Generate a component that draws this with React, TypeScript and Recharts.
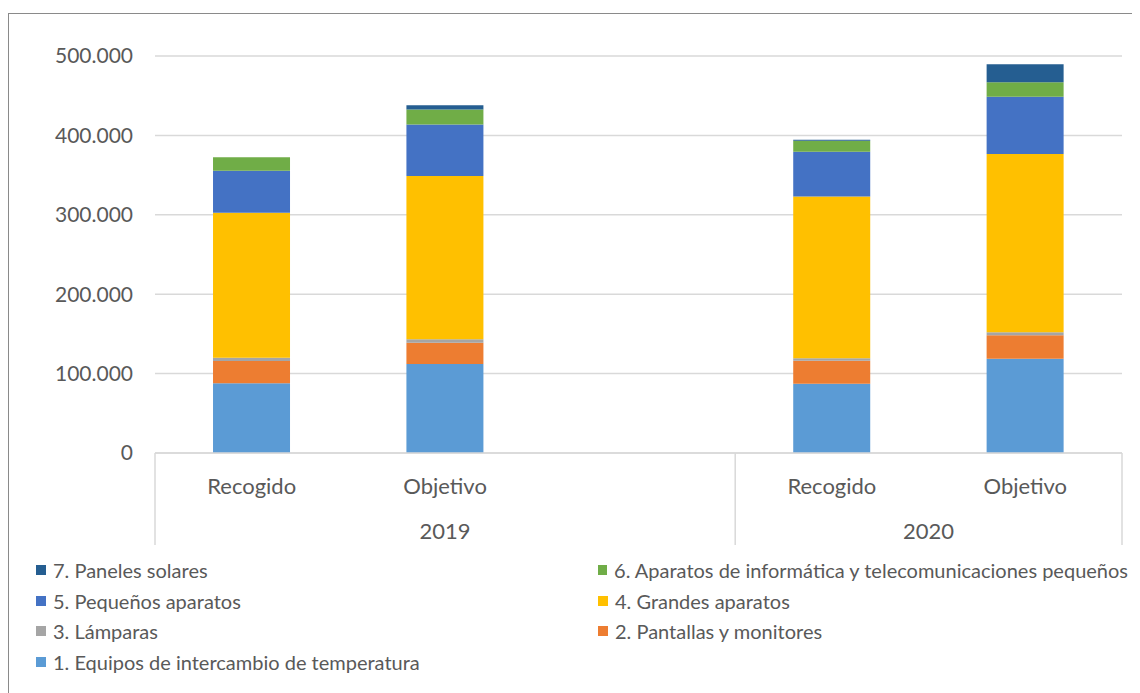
import React from "react";
import { BarChart, Bar, XAxis, YAxis, CartesianGrid, Legend } from "recharts";

// Categories along the axis (third slot left empty inside the 2019 group)
const categories = ["Recogido", "Objetivo", "", "Recogido", "Objetivo"];
const years = ["2019", "2019", "2019", "2020", "2020"];

// Tonnes per RAEE category
const equiposTemperatura = [88000, 112000, null, 87300, 118800];
const pantallasMonitores = [28000, 27000, null, 28900, 29400];
const lamparas = [4000, 4300, null, 3000, 3800];
const grandesAparatos = [182600, 205700, null, 203700, 224600];
const pequenosAparatos = [53000, 64600, null, 56600, 72100];
const informaticaTelecom = [17000, 18900, null, 13800, 18200];
const panelesSolares = [0, 5500, null, 1300, 22600];

const yTicks = [0, 100000, 200000, 300000, 400000, 500000];

const series = [
  { key: "s1", name: "1. Equipos de intercambio de temperatura", color: "#5B9BD5", values: equiposTemperatura },
  { key: "s2", name: "2. Pantallas y monitores", color: "#ED7D31", values: pantallasMonitores },
  { key: "s3", name: "3. Lámparas", color: "#A5A5A5", values: lamparas },
  { key: "s4", name: "4. Grandes aparatos", color: "#FFC000", values: grandesAparatos },
  { key: "s5", name: "5. Pequeños aparatos", color: "#4472C4", values: pequenosAparatos },
  { key: "s6", name: "6. Aparatos de informática y telecomunicaciones pequeños", color: "#70AD47", values: informaticaTelecom },
  { key: "s7", name: "7. Paneles solares", color: "#255E91", values: panelesSolares },
];

const data = categories.map((name, i) => {
  const row: Record<string, string | number | null> = { name, year: years[i] };
  series.forEach((s) => {
    row[s.key] = s.values[i];
  });
  return row;
});

const FONT = "Lato, 'Open Sans', sans-serif";
const TEXT = "#595959";
const GRID = "#d9d9d9";

const formatThousands = (v: number) =>
  String(v).replace(/\B(?=(\d{3})+(?!\d))/g, ".");

// Two-level category tick: category name, then the year centred on its group,
// with separators at the group boundaries.
const CategoryTick = (props: any) => {
  const { x, y, payload } = props;
  const i: number = payload?.index ?? props.index ?? 0;
  const half: number = payload?.offset ?? 96.7;
  const year = years[i];
  const first = years.indexOf(year);
  const last = years.lastIndexOf(year);
  const groupCenter = x + ((first + last) / 2 - i) * 2 * half;
  return (
    <g>
      <text
        x={x}
        y={y + 32}
        textAnchor="middle"
        dominantBaseline="central"
        fill={TEXT}
        fontSize={22}
        fontFamily={FONT}
      >
        {categories[i]}
      </text>
      {i === first && (
        <>
          <line x1={x - half} x2={x - half} y1={y} y2={y + 92} stroke={GRID} strokeWidth={1.5} />
          <text
            x={groupCenter}
            y={y + 77}
            textAnchor="middle"
            dominantBaseline="central"
            fill={TEXT}
            fontSize={22}
            fontFamily={FONT}
          >
            {year}
          </text>
        </>
      )}
      {i === categories.length - 1 && (
        <line x1={x + half} x2={x + half} y1={y} y2={y + 92} stroke={GRID} strokeWidth={1.5} />
      )}
    </g>
  );
};

const LegendContent = (props: any) => {
  const payload: any[] = props.payload ? [...props.payload] : [];
  const items = payload.reverse();
  return (
    <div
      style={{
        display: "grid",
        gridTemplateColumns: "562px 530px",
        fontFamily: FONT,
        fontSize: 20,
        color: TEXT,
      }}
    >
      {items.map((it) => (
        <div
          key={String(it.value)}
          style={{ display: "flex", alignItems: "center", height: 30.5, whiteSpace: "nowrap" }}
        >
          <span
            style={{
              display: "inline-block",
              width: 10,
              height: 10,
              background: it.color,
              marginRight: 7,
            }}
          />
          <span>{it.value}</span>
        </div>
      ))}
    </div>
  );
};

export default function App() {
  return (
    <div style={{ position: "relative", width: 1132, height: 685, overflow: "hidden" }}>
      <div
        style={{
          position: "absolute",
          top: 5,
          left: 0,
          width: 1160,
          height: 720,
          border: "1.5px solid #8a8a8a",
          boxSizing: "border-box",
        }}
      />
      <div style={{ position: "absolute", top: 0, left: 0 }}>
        <BarChart
          width={1132}
          height={685}
          data={data}
          margin={{ top: 48, right: 18, left: 0, bottom: 140 }}
          barCategoryGap="30%"
        >
          <CartesianGrid vertical={false} stroke={GRID} strokeWidth={1.5} />
          <XAxis
            dataKey="name"
            interval={0}
            height={100}
            tickSize={0}
            tickMargin={0}
            axisLine={{ stroke: GRID, strokeWidth: 1.5 }}
            tickLine={false}
            tick={<CategoryTick />}
          />
          <YAxis
            width={147}
            domain={[0, 500000]}
            ticks={yTicks}
            axisLine={false}
            tickLine={false}
            tickSize={0}
            tickMargin={22}
            tickFormatter={formatThousands}
            tick={{ fill: TEXT, fontSize: 21, fontFamily: FONT }}
          />
          {series.map((s) => (
            <Bar
              key={s.key}
              dataKey={s.key}
              name={s.name}
              stackId="a"
              fill={s.color}
              isAnimationActive={false}
            />
          ))}
          <Legend
            layout="horizontal"
            verticalAlign="middle"
            align="center"
            content={<LegendContent />}
            wrapperStyle={{ top: 547, left: 28, width: 1100, height: 125 }}
          />
        </BarChart>
      </div>
    </div>
  );
}
